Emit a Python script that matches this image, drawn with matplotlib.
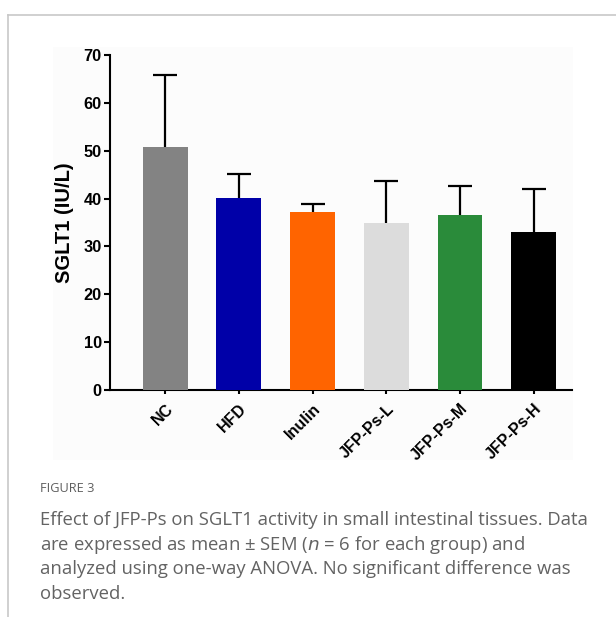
import matplotlib
matplotlib.use("Agg")
import matplotlib.pyplot as plt
from matplotlib.patches import Rectangle
from matplotlib.lines import Line2D

categories = ["NC", "HFD", "Inulin", "JFP-Ps-L", "JFP-Ps-M", "JFP-Ps-H"]
means = [50.7, 40.2, 37.2, 34.9, 36.6, 33.1]
sems = [15.1, 4.9, 1.7, 8.7, 6.0, 8.8]
colors = ["#838383", "#0000A8", "#FF6400", "#DCDCDC", "#2A8B3A", "#000000"]
yticks = [0, 10, 20, 30, 40, 50, 60, 70]
ylabel = "SGLT1 (IU/L)"
fig_label = "FIGURE 3"
caption_lines = [
    "Effect of JFP-Ps on SGLT1 activity in small intestinal tissues. Data",
    "are expressed as mean \u00b1 SEM ($\\it{n}$ = 6 for each group) and",
    "analyzed using one-way ANOVA. No significant difference was",
    "observed.",
]

W, H = 616, 617
fig = plt.figure(figsize=(W / 100, H / 100), dpi=100)
fig.patch.set_facecolor("white")

# frame lines (article figure box)
fig.add_artist(Line2D([8 / W, 1.0], [1 - 15 / H, 1 - 15 / H], color="#c8c8c8", lw=1.2))
fig.add_artist(Line2D([8 / W, 8 / W], [0.0, 1 - 15 / H], color="#c8c8c8", lw=1.2))
# faint chart background
fig.add_artist(Rectangle((53 / W, 1 - 460 / H), 520 / W, 413 / H, transform=fig.transFigure,
                         facecolor="#fcfcfc", edgecolor="none", zorder=0))

left, right, top, bottom = 110, 572, 55, 390
ax = fig.add_axes([left / W, 1 - bottom / H, (right - left) / W, (bottom - top) / H])
ax.set_facecolor("none")

x = list(range(len(categories)))
ax.bar(x, means, width=0.61, color=colors, zorder=3)
ax.errorbar(x, means, yerr=sems, fmt="none", ecolor="black",
            elinewidth=1.6, capsize=8.5, capthick=1.6, zorder=2)

ax.set_xlim(-0.75, 5.52)
ax.set_ylim(0, 70)
ax.set_yticks(yticks)
ax.set_yticklabels([str(t) for t in yticks], fontsize=11.8, fontweight="bold",
                   family="Liberation Sans")
ax.set_xticks(x)
ax.set_xticklabels(categories, rotation=45, ha="right", rotation_mode="anchor",
                   fontsize=11.5, fontweight="bold", family="Liberation Sans")
ax.set_ylabel(ylabel, fontsize=14.5, fontweight="bold", family="Liberation Sans", labelpad=7)

for s in ["top", "right"]:
    ax.spines[s].set_visible(False)
for s in ["left", "bottom"]:
    ax.spines[s].set_linewidth(1.5)
ax.tick_params(axis="both", width=1.5, length=4, direction="out", pad=2)
ax.tick_params(axis="x", length=3, pad=5)

fig.text(40 / W, 1 - 489 / H, fig_label, fontsize=9.2, color="#5e5e5e", family="Open Sans",
         va="center", ha="left")
for i, line in enumerate(caption_lines):
    fig.text(40 / W, 1 - (520 + i * 24.7) / H, line, fontsize=13.3, color="#636363",
             family="Open Sans", va="center", ha="left")

fig.savefig("out.png", dpi=100)
